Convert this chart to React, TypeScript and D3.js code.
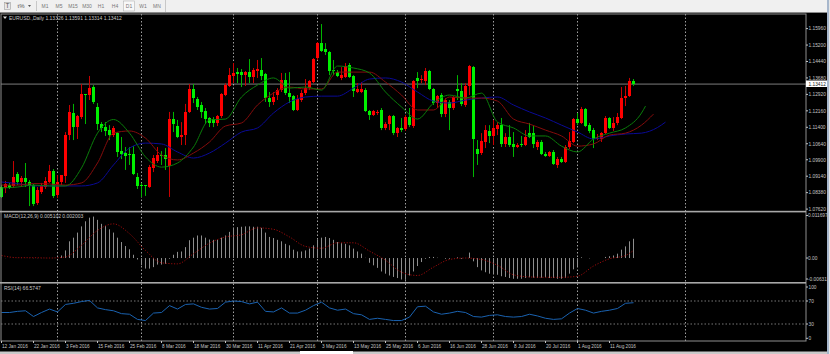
import React from "react";
import * as d3 from "d3";

// Prices are in ten-thousandths (11341 = 1.1341)
const opens = [
  10864,10860,10873,10869,10924,10887,10906,10887,10873,10790,
  10841,10864,10887,10938,10827,10887,10915,11104,11206,11141,
  11187,11294,11289,11326,11234,11155,11141,11127,11104,11113,
  11030,11021,11016,11016,10910,10873,10873,10864,10952,10984,
  11012,11012,10961,11178,11146,11095,11104,11211,11317,11271,
  11243,11215,11183,11178,11160,11192,11289,11331,11377,11395,
  11395,11381,11395,11372,11400,11405,11386,11275,11257,11289,
  11312,11358,11298,11284,11220,11266,11298,11321,11349,11460,
  11529,11502,11488,11405,11395,11368,11372,11428,11377,11303,
  11303,11312,11215,11197,11206,11220,11137,11155,11192,11113,
  11137,11132,11187,11146,11368,11358,11354,11400,11317,11252,
  11289,11201,11257,11229,11317,11308,11243,11331,11418,11040,
  11021,11072,11123,11100,11132,11150,11063,11095,11063,11049,
  11063,11058,11113,11113,11049,11072,11016,11007,11026,10966,
  10993,10980,11049,11072,11178,11160,11224,11150,11127,11086,
  11086,11113,11183,11137,11160,11183,11275,11284,11354,
];
const highs = [
  10873,10892,10883,10984,10933,10915,10975,10896,10878,10864,
  10883,10910,10966,10947,10919,10919,11118,11243,11248,11197,
  11340,11294,11377,11335,11252,11164,11164,11150,11146,11118,
  11095,11049,11049,11053,10929,10883,10873,10966,11012,11049,
  11030,11044,11211,11211,11174,11164,11248,11340,11340,11280,
  11257,11229,11187,11187,11197,11298,11344,11414,11437,11414,
  11409,11400,11455,11414,11451,11460,11391,11303,11303,11321,
  11391,11391,11395,11289,11289,11312,11363,11358,11460,11534,
  11617,11529,11492,11451,11405,11418,11437,11437,11381,11344,
  11349,11321,11220,11220,11220,11229,11164,11197,11197,11141,
  11183,11197,11229,11358,11395,11381,11414,11405,11321,11289,
  11298,11275,11266,11284,11381,11344,11344,11428,11423,11081,
  11113,11150,11150,11174,11164,11183,11113,11150,11118,11067,
  11100,11127,11160,11146,11081,11081,11026,11030,11035,11003,
  11003,11058,11118,11183,11206,11234,11229,11160,11137,11109,
  11118,11192,11187,11187,11206,11326,11331,11368,11363,
];
const lows = [
  10813,10836,10855,10860,10873,10864,10864,10776,10776,10781,
  10832,10855,10883,10813,10813,10873,10883,11081,11081,11086,
  11178,11155,11266,11248,11127,11118,11100,11081,11095,11003,
  10993,10943,10966,10919,10855,10818,10823,10860,10933,10975,
  10966,10943,10818,11118,11090,11058,11058,11206,11252,11220,
  11183,11155,11141,11141,11146,11183,11284,11326,11344,11344,
  11326,11331,11344,11344,11368,11358,11257,11234,11243,11266,
  11303,11289,11252,11215,11215,11257,11289,11312,11344,11451,
  11488,11474,11381,11381,11372,11358,11368,11368,11280,11298,
  11298,11211,11174,11192,11197,11127,11127,11127,11104,11095,
  11118,11123,11141,11137,11321,11344,11335,11312,11243,11229,
  11187,11187,11127,11220,11266,11238,11234,11289,10910,10966,
  11012,11044,11067,11058,11104,11049,11049,11049,11003,11044,
  11049,11053,11090,11044,11035,11012,11003,11003,10966,10952,
  10975,10975,11040,11067,11150,11155,11141,11113,11044,11081,
  11072,11109,11132,11123,11150,11178,11238,11280,11331,
];
const closes = [
  10818,10878,10860,10910,10887,10906,10887,10873,10786,10850,
  10869,10892,10938,10823,10887,10919,11104,11211,11141,11192,
  11294,11289,11321,11257,11155,11137,11123,11104,11137,11026,
  11016,11007,11012,10924,10869,10869,10869,10956,10998,11012,
  11007,10993,11178,11155,11095,11104,11211,11317,11275,11234,
  11211,11178,11160,11160,11192,11294,11335,11381,11391,11386,
  11381,11395,11372,11405,11409,11377,11275,11257,11280,11312,
  11358,11298,11280,11220,11271,11298,11321,11354,11455,11529,
  11492,11488,11400,11400,11377,11381,11423,11372,11308,11317,
  11317,11215,11197,11215,11211,11137,11155,11192,11113,11137,
  11127,11187,11150,11354,11354,11363,11400,11317,11252,11284,
  11201,11266,11229,11280,11308,11248,11331,11423,11086,11016,
  11077,11127,11100,11137,11150,11063,11095,11058,11049,11058,
  11058,11095,11095,11063,11072,11016,11007,11026,10970,10993,
  10980,11049,11077,11178,11160,11224,11146,11123,11086,11090,
  11113,11183,11137,11160,11187,11275,11284,11354,11341,
];

// Moving averages, read every 4 bars, with the last reading at its own bar
const maGreen = [
  10860,10864,10873,10869,10869,10952,11113,11176,11113,11003,
  10956,10975,11049,11174,11178,11280,11335,11368,11321,11326,
  11312,11423,11414,11391,11303,11234,11178,11252,11289,11275,
  11298,11164,11137,11100,11100,11053,11026,11086,11113,11137,
  11206,11238,
];
const maRed = [
  10873,10873,10880,10878,10873,10883,10975,11113,11123,11090,
  11012,10989,11021,11072,11146,11160,11243,11298,11326,11317,
  11317,11395,11395,11395,11349,11289,11220,11220,11280,11275,
  11275,11261,11178,11155,11127,11100,11053,11063,11104,11113,
  11150,11201,
];
const maBlue = [
  10887,10880,10869,10869,10869,10869,10883,10966,11044,11067,
  11063,11026,10998,11021,11067,11118,11137,11206,11257,11280,
  11284,11284,11321,11363,11368,11349,11303,11261,11252,11266,
  11275,11280,11243,11211,11183,11150,11118,11086,11100,11109,
  11113,11139,11164,
];
const maGreenLastBar = 161;
const maRedLastBar = 163;
const maBlueLastBar = 166;

// MACD, in units of 0.0001
const macdHist = [
  0.3,-0.3,0.2,0.3,0.2,-0.2,0.2,-0.3,-0.5,-0.4,-0.3,0.2,0.3,0.2,
  0.5,7,21,46,56,70,87,101,111,114,105,94,88,79,70,56,44,33,24,9,
  -4,-20,-29,-29,-25,-18,-18,-16,-2,9,17,18,30,49,56,62,62,56,51,50,
  50,56,62,72,83,85,86,87,87,86,86,83,70,58,55,50,
  46,39,35,23,18,18,21,26,35,51,56,58,55,50,44,41,39,35,26,18,12,0.5,
  -13,-20,-27,-37,-43,-48,-52,-55,-59,-60,-48,-37,-22,-11,-2,3,3,1,0,-2,-2,0,2,-2,0,15,
  -9,-25,-34,-39,-43,-43,-46,-50,-52,-55,-57,-57,-57,-55,-53,-54,-55,-54,-53,-55,-55,-57,-57,-55,
  -43,-31,-23,2,0,-1,0,0,0,3,5,7,12,23,32,46,53,
];
const macdSignal = [
  7,1,1,0,3,35,76,94,67,21,
  -13,-16,12,41,58,64,83,79,58,32,
  27,42,42,19,-6,-39,-48,-25,-4,0,
  -4,-20,-46,-52,-53,-53,-50,-22,-2,7,
  21,
];

// RSI(14), read every 2 bars
const rsi = [
  50,50,52,53,43,50,56,51,64,66,69,71,58,55,53,48,47,38,36,49,
  50,62,56,64,65,59,56,57,68,70,69,65,68,52,51,
  58,49,49,54,62,68,58,54,56,48,46,38,40,38,36,36,42,60,61,51,
  47,49,52,50,43,42,45,46,43,42,43,47,44,40,38,
  39,49,57,54,49,52,54,57,66,67,
];

const priceTicks = ["1.15960","1.15200","1.14440","1.13680","1.12920","1.12160","1.11400","1.10640","1.09900","1.09140","1.08380","1.07620"];
const dateLabels = ["12 Jan 2016","22 Jan 2016","3 Feb 2016","15 Feb 2016","25 Feb 2016","8 Mar 2016","18 Mar 2016","30 Mar 2016","11 Apr 2016","21 Apr 2016","3 May 2016","13 May 2016","25 May 2016","6 Jun 2016","16 Jun 2016","28 Jun 2016","8 Jul 2016","20 Jul 2016","1 Aug 2016","11 Aug 2016"];
const monthStartBars = [14, 35, 58, 79, 101, 123, 144, 171];
const timeframes = ["M1","M5","M15","M30","H1","H4","D1","W1","MN"];
const macdAxis = [{ v: 0.011697, t: "0.011697" }, { v: 0, t: "0.00" }, { v: -0.006313, t: "-0.006313" }];
const rsiAxis = [100, 70, 30, 0];
const rsiLevels = [70, 30];

const FONT = "'Liberation Sans', Arial, sans-serif";
const AX = "#c4c4c4";
const PANE_R = 806;

const x = d3.scaleLinear().domain([0, 1]).range([1.5, 5.5]);
const yMain = d3.scaleLinear().domain([10762, 11596]).range([209.1, 28.6]);
const yMacd = d3.scaleLinear().domain([-0.006313, 0.011697]).range([281, 215.5]);
const yRsi = d3.scaleLinear().domain([0, 100]).range([341.25, 283.75]);

const maPath = d3.line<[number, number]>().x(d => x(d[0])).y(d => yMain(d[1])).curve(d3.curveMonotoneX);
const maPoints = (vals: number[], lastBar: number): [number, number][] =>
  vals.map((v, k) => [k === vals.length - 1 ? lastBar : k * 4, v]);

const signalPath = d3.line<number>()
  .x((_, k) => x(k === macdSignal.length - 1 ? 158 : k * 4))
  .y(d => yMacd(d / 10000))
  .curve(d3.curveMonotoneX);
const rsiPath = d3.line<number>().x((_, k) => x(k * 2)).y(d => yRsi(d));

export default function App() {
  const lastClose = closes[closes.length - 1];
  return (
    <svg width={830} height={354} style={{ position: "absolute", left: 0, top: 0, display: "block" }} fontFamily={FONT}>
      <rect width={830} height={354} fill="#000" />
      {/* toolbar */}
      <rect width={830} height={12} fill="#f0f0f0" />
      <rect y={12} width={830} height={1} fill="#8a8a8a" />
      <rect x={4.5} y={2.5} width={6} height={7} fill="#e8e8e8" stroke="#a0a0a0" strokeWidth={0.6} />
      <text x={7.5} y={8.3} fontSize={6.5} textAnchor="middle" fill="#555">T</text>
      <text x={21} y={8} fontSize={6} textAnchor="middle" fill="#555">t%</text>
      <path d="M28 5h3l-1.5 2z" fill="#555" />
      <rect x={36} y={1} width={1} height={10} fill="#c8c8c8" />
      <rect x={165} y={0} width={1} height={12} fill="#c8c8c8" />
      <rect x={123.5} y={1} width={11} height={10} fill="#f8f8f8" stroke="#b4b4b4" strokeWidth={0.6} />
      {timeframes.map((t, k) => (
        <text key={t} x={45 + k * 14} y={8} fontSize={5} textAnchor="middle" fill="#777">{t}</text>
      ))}

      {/* price line */}
      <line x1={1} x2={PANE_R} y1={yMain(lastClose) + 0.3} y2={yMain(lastClose) + 0.3} stroke="#7d7d7d" strokeWidth={1} />

      {/* month grid */}
      {monthStartBars.map(b => (
        <line key={b} x1={x(b)} x2={x(b)} y1={14} y2={341} stroke="#c8c8c8" strokeWidth={0.8} strokeDasharray="1.5 2" />
      ))}

      {/* candles */}
      {opens.map((o, i) => {
        const c = closes[i];
        const up = c >= o;
        const top = Math.round(yMain(Math.max(o, c)));
        const bot = Math.round(yMain(Math.min(o, c)));
        return (
          <g key={i}>
            <line x1={x(i)} x2={x(i)} y1={yMain(highs[i])} y2={yMain(lows[i])} stroke={up ? "#c80000" : "#00b400"} strokeWidth={1} />
            <rect x={x(i) - 1.5} y={top} width={3} height={Math.max(1, bot - top)} fill={up ? "#ff0000" : "#00f000"} />
          </g>
        );
      })}

      {/* moving averages */}
      <path d={maPath(maPoints(maBlue, maBlueLastBar)) || ""} fill="none" stroke="#0a0a96" strokeWidth={1} />
      <path d={maPath(maPoints(maRed, maRedLastBar)) || ""} fill="none" stroke="#850c0c" strokeWidth={1} />
      <path d={maPath(maPoints(maGreen, maGreenLastBar)) || ""} fill="none" stroke="#0a7d0a" strokeWidth={1} />

      {/* title */}
      <path d="M3 16.5h4l-2 2.4z" fill="#ddd" />
      <text x={9} y={20} fontSize={5} fill="#c8c8c8">EURUSD.,Daily  1.13326 1.13591 1.13314 1.13412</text>

      {/* MACD */}
      {macdHist.map((v, i) => (
        <line key={i} x1={x(i)} x2={x(i)} y1={yMacd(0)} y2={yMacd(v / 10000)} stroke="#8e8e8e" strokeWidth={1} />
      ))}
      <path d={signalPath(macdSignal) || ""} fill="none" stroke="#a80c0c" strokeWidth={0.9} strokeDasharray="1.2 1.6" />
      <text x={4} y={218} fontSize={5} fill="#c8c8c8">MACD(12,26,9) 0.005102 0.002003</text>

      {/* RSI */}
      {rsiLevels.map(l => (
        <line key={l} x1={1} x2={PANE_R} y1={yRsi(l)} y2={yRsi(l)} stroke="#aaa" strokeWidth={0.7} strokeDasharray="1.5 2" />
      ))}
      <path d={rsiPath(rsi) || ""} fill="none" stroke="#1a62b0" strokeWidth={1} />
      <text x={4} y={290} fontSize={5} fill="#c8c8c8">RSI(14) 66.5747</text>

      {/* frames and separators */}
      <rect x={1} y={14} width={PANE_R - 1} height={327} fill="none" stroke="#8e8e8e" strokeWidth={1} />
      <rect x={0} y={210.8} width={PANE_R} height={1.6} fill="#a8a8a8" />
      <rect x={0} y={282} width={PANE_R} height={1.6} fill="#a8a8a8" />

      {/* price axis */}
      {priceTicks.map(t => {
        const y = yMain(parseFloat(t) * 10000);
        return (
          <g key={t}>
            <line x1={PANE_R} x2={PANE_R + 2} y1={y} y2={y} stroke={AX} />
            <text x={808.5} y={y + 1.8} fontSize={4.8} fill={AX}>{t}</text>
          </g>
        );
      })}
      <rect x={806} y={80.5} width={21} height={6.5} fill="#fff" />
      <text x={808.5} y={85.7} fontSize={4.8} fill="#222">1.13412</text>

      {/* MACD axis */}
      {macdAxis.map(a => {
        const y = a.v < 0 ? 279 : yMacd(a.v);
        return (
          <g key={a.t}>
            <line x1={PANE_R} x2={PANE_R + 2} y1={y} y2={y} stroke={AX} />
            <text x={808} y={y + 1.8} fontSize={4.8} fill={AX}>{a.t}</text>
          </g>
        );
      })}

      {/* RSI axis */}
      {rsiAxis.map(v => {
        const y = v === 100 ? 287 : v === 0 ? 338.3 : yRsi(v);
        return (
          <g key={v}>
            <line x1={PANE_R} x2={PANE_R + 2} y1={y} y2={y} stroke={AX} />
            <text x={808.5} y={y + 1.8} fontSize={4.8} fill={AX}>{v}</text>
          </g>
        );
      })}

      {/* date axis */}
      {dateLabels.map((t, k) => {
        const tx = x(k * 8);
        return (
          <g key={t}>
            <line x1={tx} x2={tx} y1={341} y2={343} stroke={AX} />
            <text x={tx + 0.5} y={348} fontSize={4.7} fill={AX}>{t}</text>
          </g>
        );
      })}

      {/* window edges */}
      <rect x={0} y={351.5} width={830} height={2.5} fill="#c9c9c9" />
      <rect x={300} y={351} width={53} height={3} fill="#fff" />
      <rect x={827} y={0} width={2} height={354} fill="#a7b7cc" />
      <rect x={829} y={0} width={1} height={354} fill="#e6e6e6" />
    </svg>
  );
}
